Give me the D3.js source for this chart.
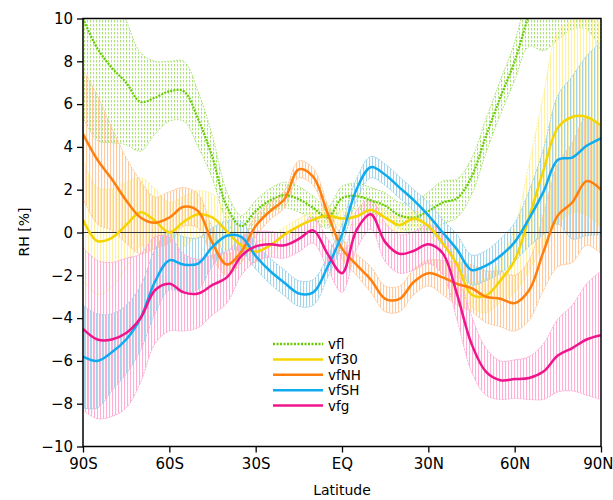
<!DOCTYPE html>
<html><head><meta charset="utf-8">
<script src="https://cdn.jsdelivr.net/npm/d3@7"></script>
<style>body{margin:0;background:#fff} svg{display:block}</style>
</head><body>
<svg id="c" width="613" height="500"></svg>
<script>
// ---------------- data ----------------
const lats = d3.range(-90, 91, 5);
const xTickValues = [-90, -60, -30, 0, 30, 60, 90];
const xTickLabels = ["90S", "60S", "30S", "EQ", "30N", "60N", "90N"];
const yTickValues = [-10, -8, -6, -4, -2, 0, 2, 4, 6, 8, 10];
const seriesNames = ["vfl", "vf30", "vfNH", "vfSH", "vfg"];

const vfl     = [10.0, 8.6, 7.7, 7.0, 6.1, 6.3, 6.6, 6.6, 5.3, 3.5, 1.2, 0.3, 1.0, 1.5, 1.75, 1.55, 1.15, 0.7, 1.6, 1.7, 1.5, 1.25, 0.8, 0.7, 1.0, 1.4, 1.6, 2.6, 4.5, 6.3, 8.0, 10.2, 12.0, 13.0, 13.5, 13.5, 13.0];
const vflErr  = [4.6, 4.3, 3.5, 2.9, 2.3, 1.7, 1.4, 1.4, 1.3, 1.0, 0.7, 0.5, 0.5, 0.55, 0.6, 0.6, 0.55, 0.5, 0.55, 0.6, 0.6, 0.6, 0.6, 0.7, 0.9, 1.0, 0.9, 0.85, 0.8, 0.8, 0.9, 1.5, 3.5, 4.0, 4.0, 4.0, 4.5];

const vf30    = [0.6, -0.4, -0.25, 0.35, 0.95, 0.55, 0.0, 0.5, 0.85, 0.7, 0.05, -0.6, -0.9, -0.6, -0.1, 0.3, 0.6, 0.8, 0.65, 0.75, 1.05, 0.7, 0.35, 0.65, 0.3, -0.5, -1.5, -2.9, -2.95, -2.25, -1.3, 0.7, 2.9, 4.9, 5.4, 5.4, 5.0];
const vf30Err = [2.8, 2.5, 2.3, 2.0, 1.6, 1.5, 1.4, 1.2, 1.1, 1.1, 0.9, 0.7, 0.5, 0.4, 0.35, 0.35, 0.35, 0.35, 0.35, 0.35, 0.35, 0.35, 0.35, 0.35, 0.35, 0.5, 0.6, 0.6, 0.8, 1.0, 1.5, 2.5, 3.5, 4.5, 4.5, 4.6, 4.8];

const vfNH    = [4.6, 3.4, 2.5, 1.5, 0.7, 0.45, 0.7, 1.2, 1.0, -0.5, -1.5, -0.9, 0.3, 1.0, 1.55, 2.95, 2.6, 0.9, -0.75, -1.5, -2.2, -3.1, -3.1, -2.3, -1.9, -2.1, -2.4, -2.6, -3.0, -3.1, -3.3, -2.7, -0.9, 0.8, 1.4, 2.4, 2.0];
const vfNHErr = [3.0, 3.0, 2.4, 2.0, 1.7, 1.2, 1.2, 0.9, 0.8, 0.7, 0.5, 0.5, 0.5, 0.4, 0.4, 0.4, 0.4, 0.4, 0.5, 0.5, 0.6, 0.6, 0.6, 0.6, 0.6, 0.8, 1.0, 1.1, 1.2, 1.3, 1.3, 1.4, 1.8, 2.4, 2.8, 3.0, 3.0];

const vfSH    = [-5.8, -6.0, -5.6, -5.0, -4.0, -2.3, -1.3, -1.5, -1.45, -0.67, -0.15, -0.2, -1.1, -1.8, -2.35, -2.85, -2.8, -1.6, -0.1, 2.0, 3.05, 2.7, 2.1, 1.5, 0.8, 0.0, -0.8, -1.75, -1.55, -1.1, -0.45, 0.65, 1.9, 3.4, 3.5, 4.05, 4.4];
const vfSHErr = [2.4, 2.2, 1.8, 1.6, 1.5, 1.5, 1.4, 1.3, 1.2, 0.9, 0.7, 0.7, 0.6, 0.6, 0.6, 0.6, 0.6, 0.5, 0.5, 0.5, 0.5, 0.5, 0.5, 0.5, 0.6, 0.6, 0.7, 0.7, 0.7, 0.8, 0.9, 1.3, 2.0, 3.0, 3.8, 4.2, 4.5];

const vfg     = [-4.5, -5.0, -5.0, -4.7, -4.0, -2.7, -2.4, -2.8, -2.85, -2.45, -2.1, -1.1, -0.65, -0.55, -0.6, -0.3, 0.1, -1.0, -1.9, 0.1, 0.85, -0.45, -1.0, -0.85, -0.55, -0.97, -2.9, -5.2, -6.5, -6.9, -6.85, -6.8, -6.5, -5.75, -5.4, -5.0, -4.8];
const vfgErr  = [3.8, 3.7, 3.6, 3.5, 3.0, 2.5, 2.2, 1.8, 1.6, 1.4, 1.2, 0.9, 0.7, 0.6, 0.6, 0.6, 0.6, 0.7, 0.9, 0.9, 0.7, 0.9, 0.9, 0.9, 0.9, 1.0, 1.2, 1.3, 1.1, 0.9, 0.9, 1.0, 1.3, 1.7, 2.0, 2.6, 3.0];

const lineColors = ["#66cc00", "#f5d400", "#ff7f0e", "#10aaee", "#f0148c"];
const bandColors = ["#a8e070", "#fff09a", "#ffc79a", "#9fd2e8", "#ffaad4"];

// ---------------- layout ----------------
const svg = d3.select("#c");
const L = 83, R = 601, T = 18.5, B = 446.5;
const x = d3.scaleLinear().domain([-90, 90]).range([L, R]);
const y = d3.scaleLinear().domain([-10, 10]).range([B, T]);
const font = "'DejaVu Sans', sans-serif";

const series = [
  {name: seriesNames[0], mean: vfl,  err: vflErr,  dotted: true},
  {name: seriesNames[1], mean: vf30, err: vf30Err},
  {name: seriesNames[2], mean: vfNH, err: vfNHErr},
  {name: seriesNames[3], mean: vfSH, err: vfSHErr},
  {name: seriesNames[4], mean: vfg,  err: vfgErr}
];
series.forEach((s, i) => { s.color = lineColors[i]; s.band = bandColors[i]; });

const defs = svg.append("defs");
defs.append("clipPath").attr("id", "clip").append("rect")
  .attr("x", L).attr("y", T).attr("width", R - L).attr("height", B - T);

series.forEach((s, i) => {
  const p = defs.append("pattern").attr("id", "pat" + i)
    .attr("patternUnits", "userSpaceOnUse")
    .attr("x", i % 3).attr("width", 3).attr("height", s.dotted ? 4 : 10);
  p.append("rect").attr("x", 0).attr("y", 0).attr("width", 1.1)
    .attr("height", s.dotted ? 2.5 : 10).attr("fill", s.band);
});

const plot = svg.append("g").attr("clip-path", "url(#clip)");

const area = d3.area()
  .x((d, i) => x(lats[i]))
  .y0(d => y(d[0] - d[1]))
  .y1(d => y(d[0] + d[1]))
  .curve(d3.curveCatmullRom);
const edgeHi = d3.line().x((d, i) => x(lats[i])).y(d => y(d[0] + d[1])).curve(d3.curveCatmullRom);
const edgeLo = d3.line().x((d, i) => x(lats[i])).y(d => y(d[0] - d[1])).curve(d3.curveCatmullRom);

// bands
series.forEach((s, i) => {
  const pts = s.mean.map((m, k) => [m, s.err[k]]);
  plot.append("path").datum(pts).attr("d", area)
    .attr("fill", `url(#pat${i})`).attr("opacity", 0.95);
  [edgeHi, edgeLo].forEach(g => {
    plot.append("path").datum(pts).attr("d", g)
      .attr("fill", "none").attr("stroke", s.band).attr("stroke-width", 1)
      .attr("stroke-dasharray", s.dotted ? "1.5,1.5" : "2,1");
  });
});

// zero line
plot.append("line").attr("x1", L).attr("x2", R).attr("y1", y(0)).attr("y2", y(0))
  .attr("stroke", "#333").attr("stroke-width", 1);

// mean lines
const line = d3.line().x((d, i) => x(lats[i])).y(d => y(d)).curve(d3.curveCatmullRom);
series.forEach(s => {
  plot.append("path").datum(s.mean).attr("d", line)
    .attr("fill", "none").attr("stroke", s.color)
    .attr("stroke-width", s.dotted ? 2.2 : 2.5)
    .attr("stroke-dasharray", s.dotted ? "2,1.2" : null)
    .attr("stroke-linejoin", "round");
});

// frame
svg.append("rect").attr("x", L).attr("y", T).attr("width", R - L).attr("height", B - T)
  .attr("fill", "none").attr("stroke", "#000").attr("stroke-width", 1.5);

// axes
const yAxis = d3.axisLeft(y).tickValues(yTickValues).tickSize(6).tickPadding(4)
  .tickFormat(d => d < 0 ? "\u2212" + Math.abs(d) : String(d));
const gy = svg.append("g").attr("transform", `translate(${L},0)`).call(yAxis);
gy.select(".domain").remove();
gy.selectAll("line").attr("stroke", "#000").attr("stroke-width", 1.3);
gy.selectAll("text").attr("font-family", font).attr("font-size", 15).attr("fill", "#000");

const xAxis = d3.axisBottom(x).tickValues(xTickValues).tickSize(6).tickPadding(6)
  .tickFormat((d, i) => xTickLabels[i]);
const gx = svg.append("g").attr("transform", `translate(0,${B})`).call(xAxis);
gx.select(".domain").remove();
gx.selectAll("line").attr("stroke", "#000").attr("stroke-width", 1.3);
gx.selectAll("text").attr("font-family", font).attr("font-size", 15).attr("fill", "#000");
gx.selectAll("text").filter(d => d === 90).attr("text-anchor", "end").attr("dx", 12);

// axis titles
svg.append("text").attr("x", 342).attr("y", 495).attr("text-anchor", "middle")
  .attr("font-family", font).attr("font-size", 14).text("Latitude");
svg.append("text").attr("transform", "translate(29,232) rotate(-90)")
  .attr("text-anchor", "middle").attr("font-family", font).attr("font-size", 14).text("RH [%]");

// legend
const leg = svg.append("g").attr("transform", "translate(273,344)");
series.forEach((s, i) => {
  const gy0 = i * 15.4;
  leg.append("line").attr("x1", 0).attr("x2", 50).attr("y1", gy0).attr("y2", gy0)
    .attr("stroke", s.color).attr("stroke-width", 2.5)
    .attr("stroke-dasharray", s.dotted ? "2,1.5" : null);
  leg.append("text").attr("x", 55).attr("y", gy0 + 5).attr("font-family", font)
    .attr("font-size", 13.5).text(s.name);
});
</script>
</body></html>
